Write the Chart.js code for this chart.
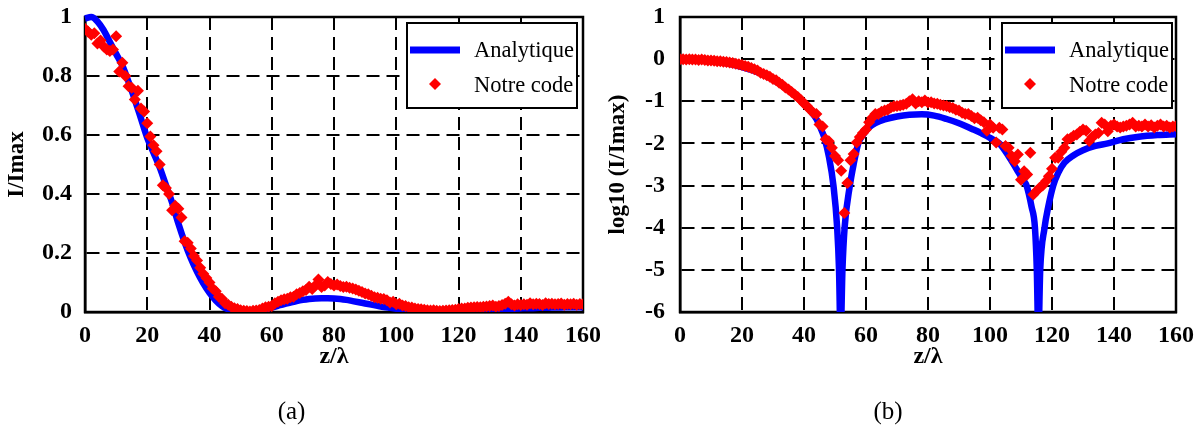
<!DOCTYPE html>
<html>
<head>
<meta charset="utf-8">
<script src="https://cdn.jsdelivr.net/npm/chart.js@4.4.0/dist/chart.umd.min.js"></script>
<style>
  html, body { margin: 0; padding: 0; background: #fff; }
  #wrap { position: relative; width: 1203px; height: 435px; }
  .panel { position: absolute; top: 0; height: 435px; }
  #panelA { left: 0; width: 600px; }
  #panelB { left: 600px; width: 603px; }
</style>
</head>
<body>
<div id="wrap">
  <div class="panel" id="panelA"><canvas id="chartA"></canvas></div>
  <div class="panel" id="panelB"><canvas id="chartB"></canvas></div>
</div>
<script>
// ---- data ----
const seriesNames = ['Analytique', 'Notre code'];
const captions = ['(a)', '(b)'];
const xTitle = 'z/λ';
const yTitles = ['I/Imax', 'log10 (I/Imax)'];

const zTicks = [0, 20, 40, 60, 80, 100, 120, 140, 160];
const zTickLabels = ['0', '20', '40', '60', '80', '100', '120', '140', '160'];
const linTicks = [0, 0.2, 0.4, 0.6, 0.8, 1];
const linTickLabels = ['0', '0.2', '0.4', '0.6', '0.8', '1'];
const logTicks = [-6, -5, -4, -3, -2, -1, 0, 1];
const logTickLabels = ['-6', '-5', '-4', '-3', '-2', '-1', '0', '1'];

// analytic curve, linear panel (a)
const analytZ = [0, 2, 4, 6, 8, 10, 12, 14, 16, 18, 20, 22, 24, 26, 28, 30, 32, 34, 36, 38,
  40, 42, 44, 46, 48, 50, 52, 54, 56, 58, 60, 62, 64, 66, 68, 70, 72, 74, 76, 78,
  80, 82, 84, 86, 88, 90, 92, 94, 96, 98, 100, 102, 104, 106, 108, 110, 112, 114, 116, 118,
  120, 122, 124, 126, 128, 130, 132, 134, 136, 138, 140, 142, 144, 146, 148, 150, 152, 154, 156, 158, 160];
const analytLin = [0.995, 1.0, 0.985, 0.955, 0.915, 0.875, 0.835, 0.78, 0.72, 0.655,
  0.59, 0.54, 0.49, 0.43, 0.37, 0.3, 0.237, 0.182, 0.136, 0.097,
  0.065, 0.039, 0.02, 0.009, 0.003, 0.001, 0.0, 0.001, 0.004, 0.009,
  0.015, 0.021, 0.027, 0.032, 0.037, 0.041, 0.044, 0.046, 0.047, 0.047,
  0.046, 0.044, 0.041, 0.037, 0.033, 0.029, 0.025, 0.021, 0.017, 0.014,
  0.011, 0.008, 0.006, 0.004, 0.002, 0.001, 0.0005, 0.0002, 0.0, 0.0003,
  0.001, 0.002, 0.003, 0.005, 0.006, 0.007, 0.008, 0.009, 0.01, 0.011,
  0.012, 0.013, 0.013, 0.014, 0.014, 0.015, 0.015, 0.016, 0.016, 0.016, 0.016];

// analytic curve, log panel (b)
const analytLogZ = [0, 5, 10, 15, 20, 24, 28, 32, 35, 38, 40, 42, 44, 46, 46.5, 48, 49.5, 50.7, 51.3, 51.8,
  52.4, 53.1, 54.8, 56, 57.5, 59, 61, 63, 66, 70, 74, 78, 82, 86, 90, 94, 97, 100, 103, 106,
  108.5, 110.5, 111.8, 113.4, 114.5, 115.1, 115.6, 116.2, 117.6, 118.8, 120.4, 122, 124, 127, 130, 134, 138, 143, 148, 154, 160];
const analytLog = [0, -0.01, -0.04, -0.1, -0.19, -0.28, -0.41, -0.58, -0.73, -0.92, -1.05, -1.22, -1.42, -1.75, -1.85, -2.3, -3.0, -4.0, -5.0, -6.6,
  -5.0, -4.0, -3.0, -2.5, -2.0, -1.8, -1.62, -1.52, -1.43, -1.36, -1.32, -1.31, -1.34, -1.42, -1.52, -1.65, -1.75, -1.87, -2.0, -2.3,
  -2.6, -2.85, -3.0, -3.5, -4.0, -5.0, -6.6, -5.0, -4.0, -3.5, -3.0, -2.7, -2.46, -2.28, -2.16, -2.06, -2.0, -1.9, -1.84, -1.8, -1.78];

// "Notre code" samples
const codeZ = [0, 1, 2, 3, 4, 5, 6, 7, 8, 9, 10, 11, 12, 13, 14, 15, 16, 17, 18, 19,
  20, 21, 22, 23, 24, 25, 26, 27, 28, 29, 30, 31, 32, 33, 34, 35, 36, 37, 38, 39,
  40, 41, 42, 43, 44, 45, 46, 47, 48, 49, 50, 51, 52, 53, 54, 55, 56, 57, 58, 59,
  60, 61, 62, 63, 64, 65, 66, 67, 68, 69, 70, 71, 72, 73, 74, 75, 76, 77, 78, 79,
  80, 81, 82, 83, 84, 85, 86, 87, 88, 89, 90, 91, 92, 93, 94, 95, 96, 97, 98, 99,
  100, 101, 102, 103, 104, 105, 106, 107, 108, 109, 110, 111, 112, 113, 114, 115, 116, 117, 118, 119,
  120, 121, 122, 123, 124, 125, 126, 127, 128, 129, 130, 131, 132, 133, 134, 135, 136, 137, 138, 139,
  140, 141, 142, 143, 144, 145, 146, 147, 148, 149, 150, 151, 152, 153, 154, 155, 156, 157, 158, 159, 160];
const codeLin = [0.96, 0.95, 0.94, 0.945, 0.91, 0.92, 0.9, 0.89, 0.885, 0.89,
  0.935, 0.815, 0.845, 0.8, 0.765, 0.76, 0.72, 0.75, 0.69, 0.68,
  0.64, 0.595, 0.565, 0.545, 0.5, 0.43, 0.42, 0.4, 0.345, 0.36,
  0.35, 0.32, 0.24, 0.235, 0.215, 0.19, 0.175, 0.15, 0.13, 0.115,
  0.1, 0.08, 0.07, 0.052, 0.045, 0.03, 0.025, 0.018, 0.013, 0.01,
  0.006, 0.004, 0.003, 0.002, 0.004, 0.005, 0.007, 0.012, 0.016, 0.018,
  0.02, 0.03, 0.035, 0.04, 0.043, 0.045, 0.05, 0.052, 0.06, 0.064,
  0.07, 0.075, 0.086, 0.078, 0.09, 0.11, 0.085, 0.09, 0.102, 0.095,
  0.09, 0.093, 0.088, 0.085, 0.086, 0.082, 0.08, 0.076, 0.072, 0.068,
  0.063, 0.06, 0.055, 0.05, 0.048, 0.045, 0.044, 0.04, 0.032, 0.035,
  0.026, 0.028, 0.022, 0.02, 0.016, 0.015, 0.012, 0.01, 0.009, 0.008,
  0.006, 0.005, 0.006, 0.004, 0.003, 0.004, 0.005, 0.006, 0.007, 0.008,
  0.01, 0.012, 0.012, 0.014, 0.015, 0.016, 0.017, 0.016, 0.018, 0.019,
  0.02, 0.022, 0.018, 0.02, 0.024, 0.028, 0.035, 0.026, 0.022, 0.026,
  0.024, 0.026, 0.025, 0.03, 0.026, 0.028, 0.027, 0.024, 0.03, 0.027,
  0.028, 0.026, 0.027, 0.029, 0.025, 0.027, 0.026, 0.028, 0.025, 0.027, 0.026];
const codeLog = [0, 0, -0.01, 0, -0.01, -0.01, -0.02, -0.01, -0.02, -0.03,
  -0.03, -0.04, -0.05, -0.05, -0.06, -0.07, -0.08, -0.09, -0.11, -0.12,
  -0.14, -0.16, -0.18, -0.21, -0.24, -0.27, -0.32, -0.35, -0.38, -0.42,
  -0.47, -0.5, -0.56, -0.61, -0.67, -0.72, -0.78, -0.84, -0.9, -0.97,
  -1.05, -1.12, -1.2, -1.27, -1.3, -1.55, -1.6, -1.9, -1.95, -2.1,
  -2.3, -2.4, -2.65, -3.65, -2.94, -2.4, -2.25, -1.98, -1.85, -1.75,
  -1.67, -1.5, -1.39, -1.3, -1.3, -1.25, -1.22, -1.2, -1.15, -1.12,
  -1.11, -1.1, -1.08, -1.06, -1.0, -0.95, -1.05, -1.0, -1.02, -0.98,
  -1.03, -1.02, -1.05, -1.06, -1.08, -1.1, -1.11, -1.14, -1.16, -1.2,
  -1.22, -1.27, -1.3, -1.3, -1.35, -1.4, -1.39, -1.45, -1.5, -1.7,
  -1.55, -1.63, -1.98, -1.63, -1.67, -2.06, -2.1, -2.3, -2.42, -2.26,
  -2.86, -2.66, -2.74, -2.22, -3.21, -3.13, -3.05, -3.0, -2.9, -2.78,
  -2.6, -2.34, -2.34, -2.2, -2.1, -1.9, -1.88, -1.82, -1.79, -1.72,
  -1.67, -1.7, -1.94, -1.85, -1.79, -1.75, -1.51, -1.55, -1.71, -1.58,
  -1.55, -1.6, -1.62, -1.6, -1.58, -1.55, -1.51, -1.6, -1.58, -1.6,
  -1.55, -1.6, -1.57, -1.62, -1.58, -1.55, -1.6, -1.58, -1.62, -1.6, -1.59];

const FONT = "'Liberation Serif', 'Times New Roman', serif";
Chart.defaults.font.family = FONT;
Chart.defaults.color = '#000';

const toPoints = (xs, ys) => xs.map((x, i) => ({ x: x, y: ys[i] }));

// solid frame round the plot area (grid lines themselves are dashed)
const framePlugin = {
  id: 'frame',
  beforeDatasetsDraw(chart) {
    const { ctx, chartArea: a } = chart;
    ctx.save();
    ctx.lineWidth = 2.5;
    ctx.strokeStyle = '#000';
    ctx.strokeRect(a.left, a.top, a.right - a.left, a.bottom - a.top);
    ctx.restore();
  }
};

// boxed legend in the top right corner of the plot area
const legendBoxPlugin = {
  id: 'legendBox',
  afterDatasetsDraw(chart, args, opts) {
    const { ctx, chartArea: a } = chart;
    const w = 170, h = 85;
    const x0 = a.right - opts.right - w;
    const y0 = a.top + opts.top;
    const ds = chart.data.datasets;
    ctx.save();
    ctx.fillStyle = '#fff';
    ctx.fillRect(x0, y0, w, h);
    ctx.lineWidth = 2;
    ctx.strokeStyle = '#000';
    ctx.strokeRect(x0, y0, w, h);

    // line sample
    ctx.strokeStyle = ds[0].borderColor;
    ctx.lineWidth = 7;
    ctx.beginPath();
    ctx.moveTo(x0 + 3, y0 + 27);
    ctx.lineTo(x0 + 53, y0 + 27);
    ctx.stroke();

    // diamond sample
    const cx = x0 + 28, cy = y0 + 61, r = 6;
    ctx.fillStyle = ds[1].backgroundColor;
    ctx.beginPath();
    ctx.moveTo(cx, cy - r);
    ctx.lineTo(cx + r, cy);
    ctx.lineTo(cx, cy + r);
    ctx.lineTo(cx - r, cy);
    ctx.closePath();
    ctx.fill();

    ctx.fillStyle = '#000';
    ctx.font = "22.5px " + FONT;
    ctx.textBaseline = 'alphabetic';
    ctx.fillText(ds[0].label, x0 + 67, y0 + 34);
    ctx.fillText(ds[1].label, x0 + 67, y0 + 69);
    ctx.restore();
  }
};

const makeChart = (canvasId, cfg) => {
  const ctx = document.getElementById(canvasId);

  if (Chart.getChart(canvasId) != undefined) {
    Chart.getChart(canvasId).destroy();
  }

  new Chart(ctx, {
    type: 'line',
    data: {
      datasets: [{
        label: seriesNames[0],
        data: toPoints(cfg.lineZ, cfg.lineY),
        borderColor: '#0000ff',
        borderWidth: 6.5,
        pointRadius: 0,
        cubicInterpolationMode: 'monotone',
        clip: { left: 4, top: 4, right: 0, bottom: 0 },
        order: 1
      }, {
        label: seriesNames[1],
        data: toPoints(codeZ, cfg.codeY),
        showLine: false,
        pointStyle: 'rectRot',
        pointRadius: 6,
        pointHoverRadius: 6,
        pointBorderWidth: 0,
        backgroundColor: '#ff0000',
        borderColor: '#ff0000',
        order: 0
      }]
    },
    options: {
      responsive: true,
      maintainAspectRatio: false,
      animation: false,
      devicePixelRatio: 1,
      events: [],
      layout: { padding: { left: 0, top: 17, right: cfg.padRight, bottom: 0 } },
      plugins: {
        legend: { display: false },
        tooltip: { enabled: false },
        title: {
          display: true,
          text: cfg.caption,
          position: 'bottom',
          color: '#000',
          font: { size: 25, weight: 'normal', family: FONT },
          padding: { top: 0, bottom: 8 }
        },
        legendBox: { right: cfg.legendRight, top: 6 }
      },
      scales: {
        x: {
          type: 'linear',
          min: 0,
          max: 160,
          afterFit: s => { s.height = 85; s.paddingLeft = 0; s.paddingRight = 0; },
          afterBuildTicks: s => { s.ticks = zTicks.map(v => ({ value: v })); },
          grid: { color: '#000', lineWidth: 2, drawTicks: false },
          border: { display: true, color: '#000', width: 2.5, dash: [13, 7] },
          ticks: {
            autoSkip: false,
            maxRotation: 0,
            padding: 9,
            color: '#000',
            font: { size: 24, weight: 'bold', family: FONT },
            callback: (v, i) => zTickLabels[i]
          },
          title: {
            display: true,
            text: xTitle,
            color: '#000',
            font: { size: 24, weight: 'bold', family: FONT },
            padding: { top: 0, bottom: 26 }
          }
        },
        y: {
          type: 'linear',
          min: cfg.yTicks[0],
          max: cfg.yTicks[cfg.yTicks.length - 1],
          afterFit: s => { s.width = cfg.yAxisWidth; s.paddingTop = 0; s.paddingBottom = 0; },
          afterBuildTicks: s => { s.ticks = cfg.yTicks.map(v => ({ value: v })); },
          grid: { color: '#000', lineWidth: 2, drawTicks: false },
          border: { display: true, color: '#000', width: 2.5, dash: [13, 7] },
          ticks: {
            autoSkip: false,
            padding: cfg.yTickPad,
            color: '#000',
            font: { size: 24, weight: 'bold', family: FONT },
            callback: (v, i) => cfg.yTickLabels[i]
          },
          title: {
            display: true,
            text: cfg.yTitle,
            color: '#000',
            font: { size: 23, weight: 'bold', family: FONT },
            padding: { top: cfg.yTitlePad, bottom: 0 }
          }
        }
      }
    },
    plugins: [framePlugin, legendBoxPlugin]
  });
};

window.addEventListener("load", () => {
  makeChart('chartA', {
    lineZ: analytZ, lineY: analytLin, codeY: codeLin,
    yTicks: linTicks, yTickLabels: linTickLabels, yTitle: yTitles[0],
    caption: captions[0], padRight: 17, yAxisWidth: 85, yTickPad: 13, yTitlePad: 3, legendRight: 6
  });
  makeChart('chartB', {
    lineZ: analytLogZ, lineY: analytLog, codeY: codeLog,
    yTicks: logTicks, yTickLabels: logTickLabels, yTitle: yTitles[1],
    caption: captions[1], padRight: 27, yAxisWidth: 80, yTickPad: 15, yTitlePad: 4, legendRight: 4
  });
});
</script>
</body>
</html>
